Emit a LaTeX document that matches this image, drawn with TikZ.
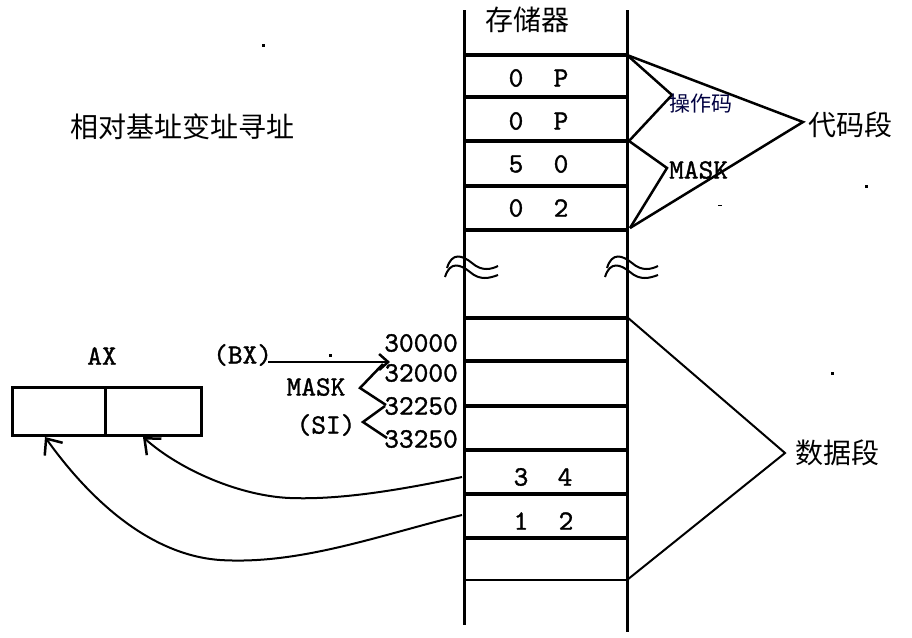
\documentclass[tikz,border=0pt]{standalone}
\usepackage{fontspec}
\setmainfont{Liberation Serif}
\newfontfamily\cjk{Noto Sans CJK SC}
\newfontfamily\mono[FakeBold=1.2]{lmmono10-regular.otf}
\usetikzlibrary{arrows.meta}
\begin{document}
\begin{tikzpicture}[x=1pt,y=-1pt,
  wall/.style={line width=3pt},
  cellrule/.style={line width=4pt},
  thinrule/.style={line width=2.5pt},
  bracket/.style={line width=2.5pt},
  wave/.style={line width=2pt},
  curvearrow/.style={line width=2pt,-{Straight Barb[length=13pt,width=22pt,line width=2.5pt]}},
  lat/.style={font=\mono\fontsize{28}{28}\selectfont, inner sep=0pt},
  cn/.style={font=\cjk\fontsize{28}{28}\selectfont, inner sep=0pt},
  cnsmall/.style={font=\cjk\fontsize{21}{21}\selectfont, inner sep=0pt},
  dot/.style={fill=black, minimum size=3pt, inner sep=0pt, draw=none}]
\useasboundingbox (0,0) rectangle (912,637);
% memory walls
\draw[wall] (464,10) -- (464,625);
\draw[wall] (627,10) -- (627,632);
% cell rules
\foreach \yy in {55,97,141,186,230,318,361,406,450,494,538}
  \draw[cellrule] (464,\yy) -- (627,\yy);
\draw[thinrule] (464,580) -- (627,580);
% break marks
\foreach \dx in {0,160} {
  \draw[wave] (447+\dx,268) .. controls (452+\dx,252) and (462+\dx,255) .. (472+\dx,263) .. controls (482+\dx,272) and (492+\dx,269) .. (498+\dx,266);
  \draw[wave] (445+\dx,277) .. controls (450+\dx,261) and (460+\dx,264) .. (470+\dx,272) .. controls (480+\dx,281) and (490+\dx,278) .. (498+\dx,275);
}
% memory title and contents
\node[cn] (mem) at (527,20) {存储器};
\node[lat] (c1a) at (516,78) {0};  \node[lat] (c1b) at (561,78) {P};
\node[lat] (c2a) at (516,121) {0}; \node[lat] (c2b) at (561,121) {P};
\node[lat] (c3a) at (516,164) {5}; \node[lat] (c3b) at (561,164) {0};
\node[lat] (c4a) at (516,208) {0}; \node[lat] (c4b) at (561,208) {2};
\node[lat] (d1a) at (521,477) {3}; \node[lat] (d1b) at (565,477) {4};
\node[lat] (d2a) at (521,521) {1}; \node[lat] (d2b) at (566,521) {2};
% bracket points
\coordinate (p55) at (627,55);
\coordinate (p141) at (629,141);
\coordinate (p228) at (630,228);
\coordinate (p317) at (627,317);
\coordinate (p580) at (627,580);
\coordinate (aop) at (672,95);
\coordinate (amask) at (667,168);
\coordinate (acode) at (803,122);
\coordinate (adata) at (785,453);
\draw[bracket] (p55) -- (aop) -- (p141);
\draw[bracket] (p141) -- (amask) -- (p228);
\draw[bracket] (p55) -- (acode) -- (p228);
\draw[line width=2pt] (p317) -- (adata) -- (p580);
\node[cnsmall, anchor=west, text=black!75!blue] (op) at (669,104) {操作码};
\node[lat, anchor=west] (mask1) at (669,170) {MASK};
\node[cn, anchor=west] (code) at (808,125) {代码段};
\node[cn, anchor=west] (data) at (795,453) {数据段};
% title
\node[cn, anchor=west] (title) at (70,127) {相对基址变址寻址};
% AX register
\node[lat] (ax) at (102,356) {AX};
\node[draw, line width=3pt, minimum width=93pt, minimum height=48pt, inner sep=0pt] (axl) at (58.5,411) {};
\node[draw, line width=3pt, minimum width=96pt, minimum height=48pt, inner sep=0pt] (axh) at (153.5,411) {};
% address labels
\node[lat, anchor=west] (bx) at (213,355) {(BX)};
\node[lat, anchor=east] (n1) at (458,343) {30000};
\node[lat, anchor=east] (n2) at (458,373) {32000};
\node[lat, anchor=east] (n3) at (458,406) {32250};
\node[lat, anchor=east] (n4) at (458,439) {33250};
\node[lat] (mask2) at (316,387) {MASK};
\node[lat] (si) at (326,425) {(SI)};
\coordinate (bxend) at (268,362);
\coordinate (bxtip) at (390,362);
\draw[line width=2.5pt, -{Straight Barb[length=9pt,width=16pt,line width=2.5pt]}] (bxend) -- (bxtip);
\coordinate (zm) at (360,388);
\coordinate (zs) at (363,422);
\draw[bracket] (383,364) -- (zm) -- (386,405);
\draw[bracket] (385,406) -- (zs) -- (387,438);
% data moves
\coordinate (m34) at (462,477);
\coordinate (m12) at (462,515);
\coordinate (axhtip) at (143,437);
\coordinate (axltip) at (45,437);
\draw[curvearrow] (m34) .. controls (400,490) and (340,500) .. (290,498) .. controls (240,496) and (180,470) .. (axhtip);
\draw[curvearrow] (m12) .. controls (380,535) and (300,565) .. (220,560) .. controls (150,555) and (90,500) .. (axltip);
% stray marks
\node[dot] (s1) at (263,45) {};
\node[dot] (s2) at (866,186) {};
\node[dot] (s3) at (832,373) {};
\node[dot] (s4) at (330,355) {};
\node[fill=black, minimum width=4pt, minimum height=1pt, inner sep=0pt] (s5) at (720,205) {};
\end{tikzpicture}
\end{document}
